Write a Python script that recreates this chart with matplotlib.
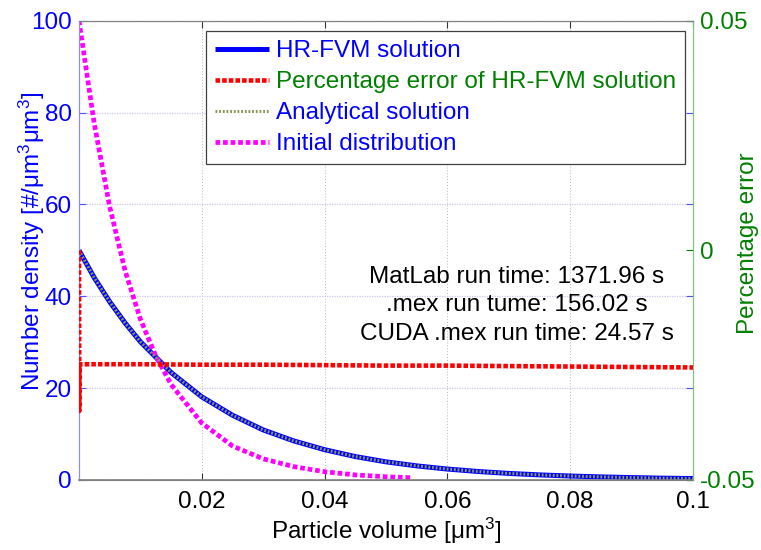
import matplotlib
matplotlib.use("Agg")
import matplotlib.pyplot as plt

plt.rcParams['font.family'] = ['Liberation Sans', 'DejaVu Sans']
plt.rcParams['mathtext.fontset'] = 'custom'
plt.rcParams['mathtext.rm'] = 'Liberation Sans'
plt.rcParams['mathtext.it'] = 'Liberation Sans'

# ---- data ----
x_sol = [0.0, 0.0025, 0.005, 0.0075, 0.01, 0.015, 0.02, 0.025, 0.03, 0.035, 0.04, 0.045, 0.05,
         0.055, 0.06, 0.065, 0.07, 0.075, 0.08, 0.085, 0.09, 0.095, 0.1]
hrfvm = [50.0, 44.0, 38.8, 34.2, 30.1, 23.4, 18.1, 14.1, 10.9, 8.5, 6.6, 5.1, 3.95,
         3.07, 2.38, 1.85, 1.43, 1.11, 0.86, 0.67, 0.52, 0.40, 0.31]
analytical = [50.0, 44.0, 38.8, 34.2, 30.1, 23.4, 18.1, 14.1, 10.9, 8.5, 6.6, 5.1, 3.95,
              3.07, 2.38, 1.85, 1.43, 1.11, 0.86, 0.67, 0.52, 0.40, 0.31]

x_init = [0.0, 0.0025, 0.005, 0.0075, 0.01, 0.0125, 0.015, 0.02, 0.025, 0.03,
          0.035, 0.04, 0.045, 0.05, 0.054]
initial = [100.0, 77.5, 59.5, 45.6, 35.0, 27.0, 20.8, 12.4, 7.4, 4.6,
           2.9, 1.8, 1.1, 0.7, 0.5]

x_err = [0.0, 0.00005, 0.0001, 0.01, 0.02, 0.03, 0.04, 0.05, 0.06, 0.07, 0.08, 0.09, 0.1]
pct_err = [0.0, -0.035, -0.0248, -0.0248, -0.0249, -0.0249, -0.0250, -0.0251,
           -0.0251, -0.0252, -0.0253, -0.0254, -0.0255]

x_ticks = [0.02, 0.04, 0.06, 0.08, 0.1]
x_ticklabels = ['0.02', '0.04', '0.06', '0.08', '0.1']
y_ticks = [0, 20, 40, 60, 80, 100]
y2_ticks = [-0.05, 0, 0.05]
y2_ticklabels = ['-0.05', '0', '0.05']

legend_labels = ['HR-FVM solution', 'Percentage error of HR-FVM solution',
                 'Analytical solution', 'Initial distribution']
run_times = 'MatLab run time: 1371.96 s\n.mex run tume: 156.02 s\nCUDA .mex run time: 24.57 s'

BLUE = '#0000ff'
GREEN = '#008000'
RED = '#ff0000'
MAGENTA = '#ff00ff'
OLIVE = '#8a9a5b'
FS = 17.5

fig = plt.figure(figsize=(7.61, 5.5), dpi=100)
ax = fig.add_axes([0.1038, 0.1273, 0.8068, 0.8351])
ax2 = ax.twinx()

l1, = ax.plot(x_sol, hrfvm, color=BLUE, lw=3.6, solid_capstyle='butt', zorder=3)
l3, = ax.plot(x_sol, analytical, color=OLIVE, lw=2.2, dashes=(0.6, 0.6),
              dash_capstyle='butt', zorder=4)
l4, = ax.plot(x_init, initial, color=MAGENTA, lw=3.4, dashes=(1.0, 0.6),
              dash_capstyle='butt', zorder=3)
l2, = ax2.plot(x_err, pct_err, color=RED, lw=3.3, dashes=(1.0, 0.45),
               dash_capstyle='butt', zorder=3)

ax.set_xlim(0, 0.1)
ax.set_ylim(0, 100)
ax2.set_ylim(-0.05, 0.05)

ax.set_xticks(x_ticks)
ax.set_xticklabels(x_ticklabels)
ax.set_yticks(y_ticks)
ax2.set_yticks(y2_ticks)
ax2.set_yticklabels(y2_ticklabels)

ax.tick_params(axis='x', direction='in', length=5, top=True, colors='#333333',
               labelcolor='black', labelsize=FS, pad=8)
ax.tick_params(axis='y', direction='in', length=5, right=True, color='#5050ff',
               labelcolor=BLUE, labelsize=FS, pad=5)
ax2.tick_params(axis='y', direction='in', length=5, color=GREEN,
                labelcolor=GREEN, labelsize=FS, pad=5)

ax.yaxis.grid(True, color='#c8c8f0', linestyle=(0, (1, 1)), lw=0.9)
ax.xaxis.grid(True, color='#b8b8b8', linestyle=(0, (1, 2)), lw=0.7)
ax.set_axisbelow(True)

for a in (ax, ax2):
    a.spines['top'].set_color('#808080')
    a.spines['bottom'].set_color('#808080')
    a.spines['left'].set_color('#8c8cff')
    a.spines['right'].set_color('#80c080')
ax2.spines['bottom'].set_linewidth(1.2)

ax.set_xlabel('Particle volume [$\\mathregular{\\mu}$m$^3$]', fontsize=FS)
ax.set_ylabel('Number density [#/$\\mathregular{\\mu}$m$^3$$\\mathregular{\\mu}$m$^3$]',
              fontsize=FS, color=BLUE)
ax2.set_ylabel('Percentage error', fontsize=FS, color=GREEN)
ax.yaxis.set_label_coords(-0.052, 0.52)
ax2.yaxis.set_label_coords(1.072, 0.516)
ax.xaxis.set_label_coords(0.5, -0.078)

ax.text(0.713, 0.38, run_times, transform=ax.transAxes, ha='center', va='center',
        fontsize=FS, linespacing=1.38, color='black', zorder=6)

leg = ax2.legend([l1, l2, l3, l4], legend_labels, loc='upper left',
                 bbox_to_anchor=(0.207, 0.978), fontsize=FS, frameon=True,
                 fancybox=False, framealpha=1, edgecolor='#404040',
                 handlelength=2.2, handletextpad=0.3, labelspacing=0.37,
                 borderpad=0.38, borderaxespad=0)
leg.get_frame().set_linewidth(0.9)
for t, c in zip(leg.get_texts(), [BLUE, GREEN, BLUE, BLUE]):
    t.set_color(c)

fig.savefig('out.png', dpi=100)
